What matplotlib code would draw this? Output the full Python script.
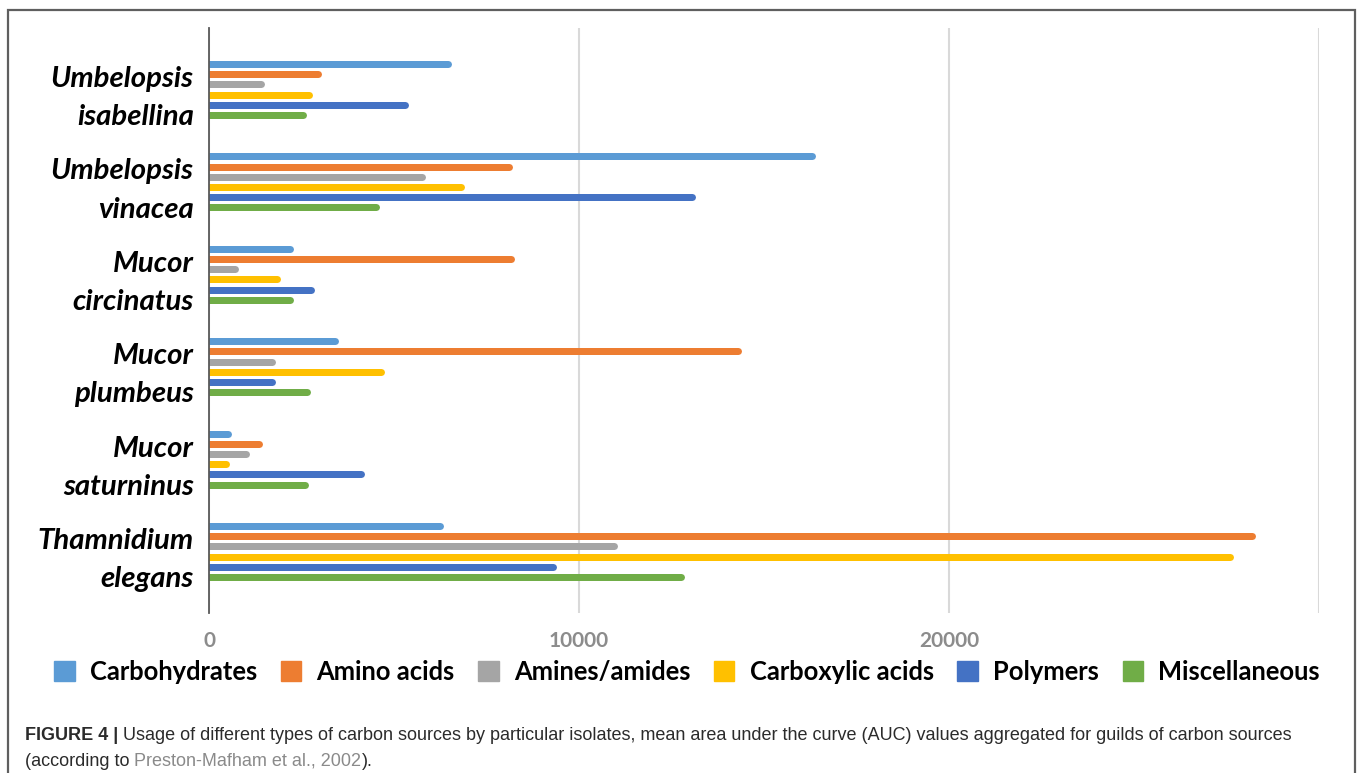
import matplotlib
matplotlib.use("Agg")
import matplotlib.pyplot as plt
from matplotlib.patches import Patch, Rectangle
import numpy as np

categories = ["Umbelopsis\nisabellina", "Umbelopsis\nvinacea", "Mucor\ncircinatus",
              "Mucor\nplumbeus", "Mucor\nsaturninus", "Thamnidium\nelegans"]
series_names = ["Carbohydrates", "Amino acids", "Amines/amides",
                "Carboxylic acids", "Polymers", "Miscellaneous"]
carbohydrates = [6450, 16300, 2200, 3400, 500, 6250]
amino_acids = [2950, 8100, 8150, 14300, 1350, 28200]
amines_amides = [1400, 5750, 700, 1700, 1000, 10950]
carboxylic_acids = [2700, 6800, 1850, 4650, 450, 27600]
polymers = [5300, 13050, 2750, 1700, 4100, 9300]
miscellaneous = [2550, 4500, 2200, 2650, 2600, 12750]
x_ticks = [0, 10000, 20000, 30000]
x_tick_labels = ["0", "10000", "20000", ""]

series = [carbohydrates, amino_acids, amines_amides, carboxylic_acids, polymers, miscellaneous]
colors = ["#5B9BD5", "#ED7D31", "#A5A5A5", "#FFC000", "#4472C4", "#70AD47"]

W, H = 1357, 773
fig = plt.figure(figsize=(W / 100, H / 100), dpi=100)
fig.patch.set_facecolor("white")

# outer frame (open at bottom, cropped)
fig.add_artist(Rectangle((8 / W, -0.05), (1355 - 8) / W, 1.05 - 10 / H,
                         transform=fig.transFigure, fill=False,
                         edgecolor="#5f5f5f", linewidth=1.6))

ax = fig.add_axes([209 / W, 1 - 613 / H, (1319 - 209) / W, (613 - 28) / H])

pitch = 0.11
bar_lw = 7 * 72 / 100
y0 = np.arange(len(categories))
for i, (vals, col) in enumerate(zip(series, colors)):
    ys = y0 + (i - 2.5) * pitch
    ax.hlines(ys, 0, vals, colors=col, linewidth=bar_lw, capstyle="round")

ax.set_xlim(0, 30000)
ax.set_ylim(len(categories) - 1 + 0.665, -0.665)
ax.set_xticks(x_ticks)
ax.set_xticklabels(x_tick_labels)
ax.set_yticks(y0)
ax.set_yticklabels(categories, fontfamily="Lato", fontweight="bold",
                   fontstyle="italic", fontsize=21.2, linespacing=1.58, ha="right")
ax.tick_params(axis="y", length=0, pad=11)
ax.tick_params(axis="x", length=0, pad=13, labelcolor="#8c8c8c", labelsize=15)
for lab in ax.get_xticklabels():
    lab.set_fontfamily("Lato")
    lab.set_fontweight("bold")
ax.grid(axis="x", color="#d9d9d9", linewidth=1.5)
ax.set_axisbelow(True)
for s in ["top", "right", "bottom"]:
    ax.spines[s].set_visible(False)
ax.spines["left"].set_color("#595959")
ax.spines["left"].set_linewidth(1.3)
ax.spines["left"].set_zorder(5)

handles = [Patch(facecolor=c, edgecolor=c) for c in colors]
fig.legend(handles, series_names, loc="center", bbox_to_anchor=(687 / W, 1 - 672 / H),
           ncol=6, frameon=False, handlelength=0.8, handleheight=0.78,
           handletextpad=0.6, columnspacing=0.92,
           prop={"family": "Lato", "weight": "bold", "size": 18.4})

# caption
cap_size = 13.0
fig.canvas.draw()
r = fig.canvas.get_renderer()
x0 = 25 / W
t1 = fig.text(x0, 1 - 740 / H, "FIGURE 4 | ", fontfamily="Liberation Sans",
              fontweight="bold", fontsize=cap_size, color="#2b2b2b", va="baseline")
bb = t1.get_window_extent(r)
fig.text(bb.x1 / W, 1 - 740 / H,
         "Usage of different types of carbon sources by particular isolates, mean area under the curve (AUC) values aggregated for guilds of carbon sources",
         fontfamily="Liberation Sans", fontsize=cap_size, color="#2b2b2b", va="baseline")
t3 = fig.text(x0, 1 - 766 / H, "(according to ", fontfamily="Liberation Sans",
              fontsize=cap_size, color="#2b2b2b", va="baseline")
bb = t3.get_window_extent(r)
t4 = fig.text(bb.x1 / W, 1 - 766 / H, "Preston-Mafham et al., 2002",
              fontfamily="Liberation Sans", fontsize=cap_size, color="#8a8a8a", va="baseline")
bb = t4.get_window_extent(r)
fig.text(bb.x1 / W, 1 - 766 / H, ").", fontfamily="Liberation Sans",
         fontsize=cap_size, color="#2b2b2b", va="baseline")

fig.savefig("out.png", dpi=100, facecolor="white")
